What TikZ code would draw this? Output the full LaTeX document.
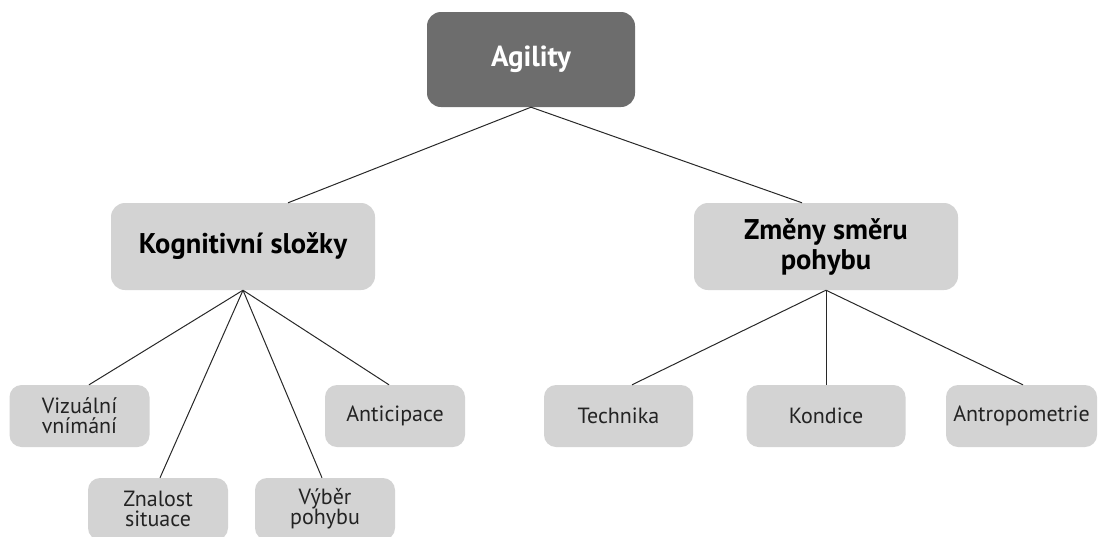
\documentclass[tikz,border=0pt]{standalone}
\usepackage{fontspec}
\setmainfont{PT Sans}
\usetikzlibrary{positioning}
\definecolor{boxgray}{RGB}{211,211,211}
\definecolor{topgray}{RGB}{109,109,109}
\definecolor{linegray}{RGB}{40,40,40}
\definecolor{textgray}{RGB}{35,35,35}

\begin{document}
\begin{tikzpicture}[x=1pt, y=-1pt, node distance=170pt, on grid,
    leaf/.style={rectangle, rounded corners=12pt, fill=boxgray, inner sep=0pt,
      minimum width=140pt, minimum height=62pt, align=center, text=textgray,
      font=\fontsize{22}{20}\selectfont},
    branch/.style={leaf, rounded corners=14pt, minimum width=264pt,
      minimum height=87pt, text=black, font=\fontsize{28.5}{30}\selectfont\bfseries},
    root/.style={branch, fill=topgray, text=white, minimum width=208pt,
      minimum height=95pt, font=\fontsize{29}{30}\selectfont\bfseries},
    link/.style={draw=linegray, line width=1pt}]
  \useasboundingbox (0,0) rectangle (1098,536);
  \node[root] (agility) at (531,59.5) {Agility};
  \node[branch] (kog) [below left=187pt and 288pt of agility] {Kognitivní složky};
  \node[branch] (zmeny) [below right=187pt and 295pt of agility] {Změny směru\\pohybu};
  \node[leaf] (viz) [below left=169.5pt and 163.5pt of kog] {Vizuální\\vnímání};
  \node[leaf] (znal) [below left=262.5pt and 85pt of kog] {Znalost\\situace};
  \node[leaf] (vyber) [below right=262.5pt and 82pt of kog] {Výběr\\pohybu};
  \node[leaf] (antic) [below right=169.5pt and 152pt of kog] {Anticipace};
  \node[leaf, minimum width=149pt] (tech) [below left=169.5pt and 207.5pt of zmeny] {Technika};
  \node[leaf, minimum width=159pt] (kond) [below=169.5pt of zmeny] {Kondice};
  \node[leaf, minimum width=151pt] (antro) [below right=169.5pt and 195.5pt of zmeny] {Antropometrie};
  \path[link]
    (agility.south) edge ([xshift=45pt]kog.north)
                    edge ([xshift=-24pt]zmeny.north)
    (kog.south) edge ([xshift=9.5pt]viz.north)
                edge ([xshift=2pt]znal.north)
                edge ([xshift=-3pt]vyber.north)
                edge ([xshift=-6pt]antic.north)
    (zmeny.south) edge ([xshift=13.5pt]tech.north)
                  edge (kond.north)
                  edge ([xshift=1.5pt]antro.north);
\end{tikzpicture}
\end{document}
